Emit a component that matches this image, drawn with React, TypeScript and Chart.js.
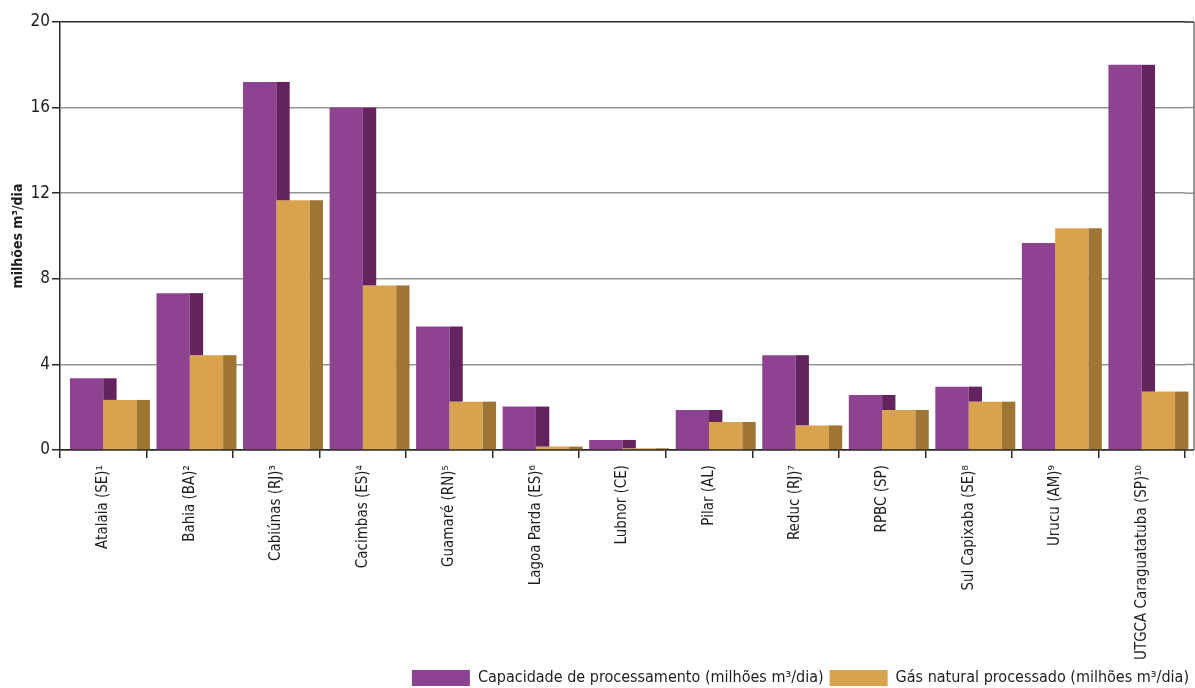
import React, { useEffect, useRef } from 'react';
import { Chart, registerables } from 'chart.js';

Chart.register(...registerables);

// Unidades de processamento de gás natural
const categories = [
  'Atalaia (SE)¹',
  'Bahia (BA)²',
  'Cabiúnas (RJ)³',
  'Cacimbas (ES)⁴',
  'Guamaré (RN)⁵',
  'Lagoa Parda (ES)⁶',
  'Lubnor (CE)',
  'Pilar (AL)',
  'Reduc (RJ)⁷',
  'RPBC (SP)',
  'Sul Capixaba (SE)⁸',
  'Urucu (AM)⁹',
  'UTGCA Caraguatatuba (SP)¹⁰',
];

// milhões m³/dia
const capacidade = [3.35, 7.33, 17.2, 16.0, 5.77, 2.03, 0.47, 1.87, 4.43, 2.57, 2.96, 9.67, 18.0];
const processado = [2.34, 4.43, 11.67, 7.69, 2.26, 0.16, 0.08, 1.31, 1.15, 1.87, 2.26, 10.36, 2.73];

const yTicks = [0, 4, 8, 12, 16, 20];

const FONT = "'DejaVu Sans Condensed', 'Liberation Sans Narrow', 'Arial Narrow', sans-serif";
const TEXT = '#1e1e1e';
const GRID = 'rgba(0,0,0,0.42)';
const FRAME = '#2a2a2a';

const PURPLE = '#8e4390';
const PURPLE_SIDE = '#63235e';
const ORANGE = '#d9a24c';
const ORANGE_SIDE = '#9f7534';

// depth of the shaded side face, as a share of the bar's front width
const DEPTH_RATIO = 0.4;
// extra room between the last category and the right frame line
const FRAME_EXTRA = 9;

// Draws the darker right-hand side of every bar so the columns look solid.
// A side face is hidden behind the front of the bar that follows it in the
// same category, so only the part rising above that neighbour is painted.
const sideFaces = {
  id: 'sideFaces',
  afterDatasetDraw(chart: any, args: any) {
    const ds: any = chart.data.datasets[args.index];
    const next = chart.getDatasetMeta(args.index + 1);
    const ctx = chart.ctx;
    ctx.save();
    ctx.fillStyle = ds.sideColor;
    args.meta.data.forEach((bar: any, i: number) => {
      const { x, y, base, width } = bar.getProps(['x', 'y', 'base', 'width'], true);
      let bottom = base;
      if (next && next.data && next.data[i]) {
        const nb = next.data[i].getProps(['y'], true);
        bottom = Math.min(base, nb.y);
      }
      if (bottom > y) {
        ctx.fillRect(x + width / 2, y, width * DEPTH_RATIO, bottom - y);
      }
    });
    ctx.restore();
  },
};

// Carries the grid and frame a few pixels past the last category, closing the box.
const frameExtension = {
  id: 'frameExtension',
  afterDraw(chart: any) {
    const { ctx, chartArea, scales } = chart;
    const ext = chartArea.right + FRAME_EXTRA;
    ctx.save();
    ctx.lineWidth = 1.5;
    yTicks.forEach((v) => {
      const py = scales.y.getPixelForValue(v);
      ctx.strokeStyle = v === 0 || v === 20 ? FRAME : GRID;
      ctx.beginPath();
      ctx.moveTo(chartArea.right, py);
      ctx.lineTo(ext, py);
      ctx.stroke();
    });
    ctx.strokeStyle = '#555';
    ctx.lineWidth = 1.2;
    ctx.beginPath();
    ctx.moveTo(ext, chartArea.top);
    ctx.lineTo(ext, chartArea.bottom);
    ctx.stroke();
    ctx.restore();
  },
};

export default function App() {
  const canvasRef = useRef<HTMLCanvasElement | null>(null);

  useEffect(() => {
    document.body.style.margin = '0';
    const canvas = canvasRef.current;
    if (!canvas) return;

    const chart = new Chart(canvas, {
      type: 'bar',
      data: {
        labels: categories,
        datasets: [
          {
            label: 'Capacidade de processamento (milhões m³/dia)',
            data: capacidade,
            backgroundColor: PURPLE,
            borderWidth: 0,
            sideColor: PURPLE_SIDE,
          } as any,
          {
            label: 'Gás natural processado (milhões m³/dia)',
            data: processado,
            backgroundColor: ORANGE,
            borderWidth: 0,
            sideColor: ORANGE_SIDE,
          } as any,
        ],
      },
      options: {
        responsive: false,
        animation: false,
        layout: { padding: { left: 0, top: 22, right: 0, bottom: -8 } },
        datasets: {
          bar: { categoryPercentage: 0.77, barPercentage: 1 },
        },
        plugins: {
          legend: {
            position: 'bottom',
            align: 'end',
            labels: {
              boxWidth: 58,
              boxHeight: 16,
              color: TEXT,
              font: { family: FONT, size: 16, lineHeight: 1 },
              padding: 6,
            },
          },
          tooltip: { enabled: false },
        },
        scales: {
          x: {
            grid: {
              offset: true,
              drawOnChartArea: false,
              tickLength: 8,
              color: FRAME,
              lineWidth: 1.5,
            },
            border: { color: FRAME, width: 1.5 },
            ticks: {
              autoSkip: false,
              maxRotation: 90,
              minRotation: 90,
              color: TEXT,
              font: { family: FONT, size: 15 },
              padding: 7,
            },
            afterFit: (scale: any) => {
              scale.height = 214;
            },
          },
          y: {
            min: 0,
            max: 20,
            z: 1,
            afterBuildTicks: (scale: any) => {
              scale.ticks = yTicks.map((v) => ({ value: v }));
            },
            ticks: {
              color: TEXT,
              font: { family: FONT, size: 17 },
              padding: 2,
            },
            grid: {
              color: (c: any) => (c.tick && (c.tick.value === 20 || c.tick.value === 0) ? FRAME : GRID),
              lineWidth: 1.5,
              tickLength: 8,
              tickColor: FRAME,
            },
            border: { color: FRAME, width: 1.5 },
            title: {
              display: true,
              text: 'milhões m³/dia',
              color: TEXT,
              font: { family: FONT, size: 14, weight: 'bold' },
              padding: { top: 10, bottom: 0 },
            },
            afterFit: (scale: any) => {
              scale.width = 60;
            },
          },
          // empty strip on the right that leaves room for the closing frame
          edge: {
            type: 'linear',
            position: 'right',
            display: true,
            grid: { display: false },
            border: { display: false },
            ticks: { display: false },
            afterFit: (scale: any) => {
              scale.width = 10;
            },
          },
        },
      } as any,
      plugins: [sideFaces, frameExtension],
    });

    return () => chart.destroy();
  }, []);

  return (
    <div style={{ width: 1195, height: 688, background: '#fff' }}>
      <canvas ref={canvasRef} width={1195} height={688} />
    </div>
  );
}
